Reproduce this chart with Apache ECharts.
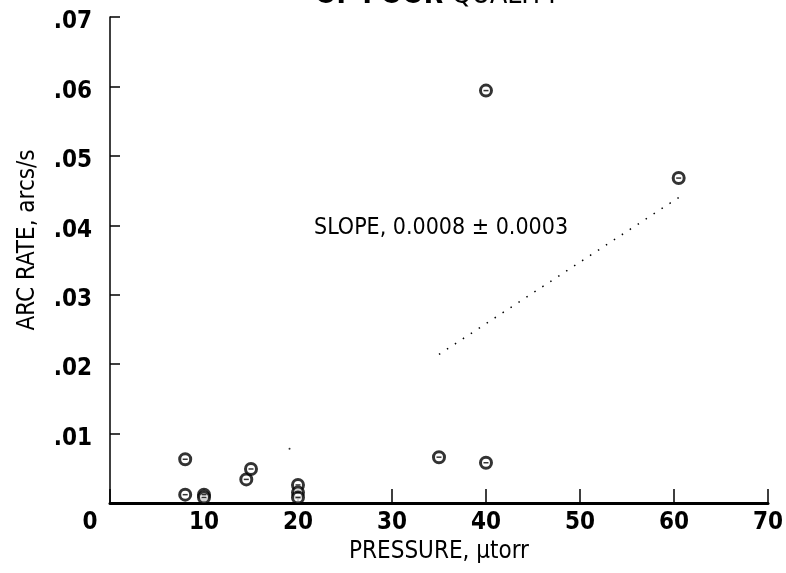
<!DOCTYPE html>
<html>
<head>
<meta charset="utf-8">
<script src="https://cdn.jsdelivr.net/npm/echarts@6/dist/echarts.min.js"></script>
<style>
html,body{margin:0;padding:0;background:#fff;}
#c{width:786px;height:573px;}
</style>
</head>
<body>
<div id="c"></div>
<script>
// ---- data ----
const pressure = [8, 8, 10, 10, 14.5, 15, 20, 20, 20, 35, 40, 40, 60.5];
const arcRate  = [0.0063, 0.0012, 0.0012, 0.0008, 0.0034, 0.0049, 0.0026, 0.0015, 0.0008, 0.0066, 0.0058, 0.0594, 0.0468];
const fitPressure = [35, 60.5];
const fitRate     = [0.0214, 0.0440];
const strayPressure = [19.1];
const strayRate     = [0.0078];
const xTicks = [0, 10, 20, 30, 40, 50, 60, 70];
const yTicks = [0, 0.01, 0.02, 0.03, 0.04, 0.05, 0.06, 0.07];
const titleBold = 'OF POOR';
const titleLight = 'QUALITY';
const slopeText = 'SLOPE, 0.0008 \u00B1 0.0003';
const xName = 'PRESSURE, \u00B5torr';
const yName = 'ARC RATE, arcs/s';

const FONT = '"DejaVu Sans Condensed","Liberation Sans Narrow","Roboto Condensed","DejaVu Sans",sans-serif';
const pts = pressure.map((p, i) => [p, arcRate[i]]);
const fit = fitPressure.map((p, i) => [p, fitRate[i]]);
const stray = strayPressure.map((p, i) => [p, strayRate[i]]);

const chart = echarts.init(document.getElementById('c'), null, {renderer: 'canvas'});
chart.setOption({
  animation: false,
  backgroundColor: '#fff',
  grid: {left: 110, right: 15, top: 17, bottom: 70, containLabel: false},
  xAxis: {
    type: 'value', min: xTicks[0], max: xTicks[xTicks.length - 1], interval: 10,
    name: xName, nameLocation: 'middle', nameGap: 36,
    nameTextStyle: {fontFamily: FONT, fontSize: 24, color: '#000'},
    axisLine: {lineStyle: {color: '#000', width: 3}},
    axisTick: {inside: true, length: 14, lineStyle: {color: '#000', width: 1.5}},
    splitLine: {show: false},
    axisLabel: {
      fontFamily: FONT, fontSize: 24, fontWeight: 'bold', color: '#000', margin: 8,
      formatter: v => v === 0 ? '{z|0}' : String(v),
      rich: {z: {fontFamily: FONT, fontSize: 24, fontWeight: 'bold', color: '#000', padding: [0, 40, 0, 0]}}
    }
  },
  yAxis: {
    type: 'value', min: yTicks[0], max: yTicks[yTicks.length - 1], interval: 0.01,
    name: yName, nameLocation: 'middle', nameGap: 70, nameRotate: 90,
    nameTextStyle: {fontFamily: FONT, fontSize: 24, color: '#000', padding: [0, 0, 0, 40]},
    axisLine: {lineStyle: {color: '#000', width: 1.5}},
    axisTick: {inside: true, length: 10, lineStyle: {color: '#000', width: 1.5}},
    splitLine: {show: false},
    axisLabel: {
      fontFamily: FONT, fontSize: 24, fontWeight: 'bold', color: '#000', margin: 18,
      formatter: v => v === 0 ? '' : '{a|.' + String(Math.round(v * 100)).padStart(2, '0') + '}',
      rich: {a: {fontFamily: FONT, fontSize: 24, fontWeight: 'bold', color: '#000', padding: [10, 0, 0, 0]}}
    }
  },
  graphic: [
    {type: 'text', x: 315, y: -18, style: {
      text: '{b|' + titleBold + '} {l|' + titleLight + '}',
      rich: {b: {font: 'bold 28px ' + FONT, fill: '#000'}, l: {font: '28px ' + FONT, fill: '#000'}},
      font: 'bold 28px ' + FONT, fill: '#000'}},
    {type: 'text', x: 314, y: 217, style: {text: slopeText, font: '23px ' + FONT, fill: '#000'}}
  ],
  series: [
    {type: 'line', data: fit, symbol: 'none', silent: true,
     lineStyle: {color: '#000', width: 1.5, type: [1.5, 8]}},
    {type: 'scatter', data: stray, symbol: 'circle', symbolSize: 2, itemStyle: {color: '#000'}},
    {type: 'scatter', data: pts, symbol: 'circle', symbolSize: 11,
     itemStyle: {color: '#fff', borderColor: '#000', borderWidth: 3}},
    {type: 'scatter', data: pts, symbol: 'rect', symbolSize: [5, 1.5], itemStyle: {color: '#000'}, z: 3}
  ]
});
</script>
</body>
</html>
